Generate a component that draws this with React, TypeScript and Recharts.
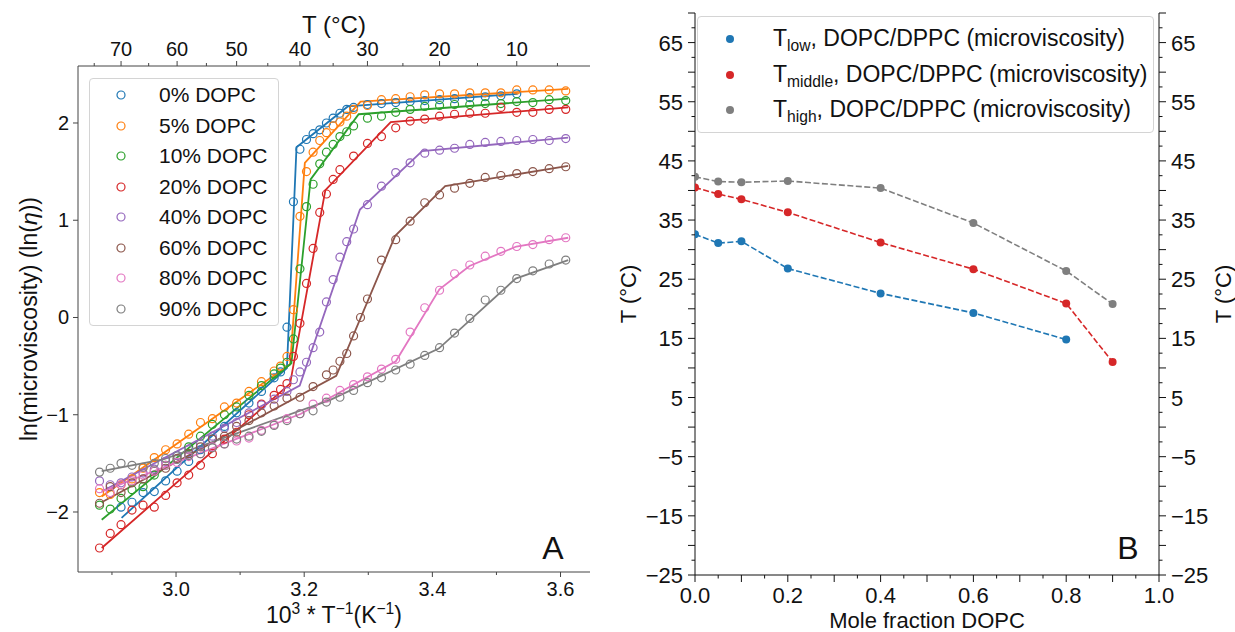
import React from "react";
import { ComposedChart, Line, Scatter, XAxis, YAxis } from "recharts";

const FONT = '"Liberation Sans", Arial, Helvetica, sans-serif';
const INK = "#111111";
const SPINE = "#444444";

// ---------- panel A : ln(microviscosity) against 1000/T ----------
const invTicksMajor = [3.0, 3.2, 3.4, 3.6];
const invTicksMinor = [2.9, 3.1, 3.3, 3.5];
const tempTicksMajor = [70, 60, 50, 40, 30, 20, 10];
const tempTicksMinor = [75, 65, 55, 45, 35, 25, 15, 5];
const lnTicks = [-2, -1, 0, 1, 2];
const X_DOMAIN_A = [2.847, 3.646];
const Y_DOMAIN_A = [-2.617, 2.586];

// measurement temperatures, °C
const tempsEvery2 = [74, 72, 70, 68, 66, 64, 62, 60, 58, 56, 54, 52, 50, 48, 46, 44, 42, 40, 38, 36, 34, 32, 30, 28, 26, 24, 22, 20, 18, 16, 14, 12, 10, 8, 6, 4];
const temps0 = [70, 68, 66, 64, 62, 60, 58, 56, 54, 52, 50, 48, 46, 44, 43, 42, 41, 40, 39, 38, 37, 36, 35, 34, 33, 32, 30, 28, 26, 24, 22, 20, 18, 16, 14, 12, 10];
const temps5 = [74, 72, 70, 68, 66, 64, 62, 60, 58, 56, 54, 52, 50, 48, 46, 44, 43, 42, 41, 40, 39, 38, 37, 36, 35, 34, 33, 32, 30, 28, 26, 24, 22, 20, 18, 16, 14, 12, 10, 8, 6, 4];
const temps20 = [74, 72, 70, 68, 66, 64, 62, 60, 58, 56, 54, 52, 50, 48, 46, 44, 43, 42, 41, 40, 39, 38, 37, 36, 35, 34, 32, 30, 28, 26, 24, 22, 20, 18, 16, 14, 12, 10, 8, 6, 4];
const temps40 = [74, 72, 70, 68, 66, 64, 62, 60, 58, 56, 54, 52, 50, 48, 46, 44, 42, 41, 40, 39, 38, 37, 36, 35, 34, 33, 32, 30, 28, 26, 24, 22, 20, 18, 16, 14, 12, 10, 8, 6, 4];
const temps60 = [74, 72, 70, 68, 66, 64, 62, 60, 58, 56, 54, 52, 50, 48, 46, 44, 42, 40, 38, 36, 35, 34, 33, 32, 31, 30, 28, 26, 24, 22, 20, 18, 16, 14, 12, 10, 8, 6, 4];

// ln(eta) readings
const ln0 = [-1.95, -1.9, -1.8, -1.79, -1.68, -1.58, -1.48, -1.36, -1.25, -1.12, -0.98, -0.88, -0.76, -0.62, -0.56, -0.1, 1.19, 1.73, 1.83, 1.89, 1.93, 2.0, 2.05, 2.1, 2.14, 2.16, 2.19, 2.2, 2.21, 2.22, 2.23, 2.24, 2.25, 2.26, 2.27, 2.28, 2.3];
const ln5 = [-1.8, -1.82, -1.72, -1.66, -1.55, -1.44, -1.36, -1.3, -1.2, -1.08, -1.04, -0.92, -0.88, -0.76, -0.66, -0.55, -0.5, -0.4, 0.08, 1.04, 1.5, 1.7, 1.82, 1.9, 1.97, 2.01, 2.07, 2.14, 2.18, 2.24, 2.25, 2.27, 2.29, 2.3, 2.3, 2.31, 2.31, 2.31, 2.34, 2.34, 2.34, 2.33];
const ln10 = [-1.93, -1.97, -1.86, -1.77, -1.74, -1.62, -1.52, -1.42, -1.33, -1.22, -1.1, -1.0, -0.92, -0.8, -0.7, -0.58, -0.52, -0.46, -0.22, 0.5, 1.14, 1.37, 1.58, 1.7, 1.78, 1.86, 1.91, 1.97, 2.05, 2.07, 2.11, 2.14, 2.17, 2.18, 2.19, 2.19, 2.2, 2.2, 2.22, 2.21, 2.24, 2.23];
const ln20 = [-2.37, -2.22, -2.13, -1.98, -1.93, -1.95, -1.83, -1.7, -1.62, -1.52, -1.4, -1.25, -1.18, -1.0, -0.89, -0.8, -0.74, -0.68, -0.4, -0.06, 0.35, 0.71, 1.08, 1.27, 1.42, 1.52, 1.66, 1.79, 1.86, 1.95, 2.02, 2.04, 2.07, 2.09, 2.1, 2.1, 2.16, 2.11, 2.11, 2.14, 2.14];
const ln40 = [-1.68, -1.72, -1.7, -1.64, -1.6, -1.56, -1.48, -1.42, -1.36, -1.3, -1.22, -1.14, -1.08, -0.98, -0.9, -0.84, -0.76, -0.64, -0.56, -0.46, -0.31, -0.15, 0.16, 0.39, 0.62, 0.78, 0.91, 1.16, 1.35, 1.49, 1.59, 1.69, 1.72, 1.74, 1.78, 1.8, 1.81, 1.82, 1.83, 1.82, 1.84];
const ln60 = [-1.91, -1.74, -1.8, -1.7, -1.66, -1.58, -1.55, -1.45, -1.4, -1.33, -1.25, -1.22, -1.12, -1.06, -0.98, -0.91, -0.83, -0.82, -0.71, -0.59, -0.54, -0.45, -0.37, -0.19, 0.0, 0.19, 0.59, 0.8, 0.99, 1.18, 1.26, 1.33, 1.38, 1.44, 1.46, 1.48, 1.5, 1.53, 1.55];
const ln80 = [-1.76, -1.8, -1.72, -1.68, -1.62, -1.58, -1.52, -1.49, -1.43, -1.4, -1.33, -1.3, -1.27, -1.24, -1.16, -1.1, -1.04, -0.99, -0.89, -0.83, -0.75, -0.69, -0.61, -0.53, -0.43, -0.15, 0.1, 0.28, 0.45, 0.54, 0.63, 0.68, 0.73, 0.75, 0.8, 0.82];
const ln90 = [-1.59, -1.55, -1.5, -1.52, -1.54, -1.5, -1.45, -1.46, -1.42, -1.4, -1.34, -1.3, -1.25, -1.22, -1.17, -1.11, -1.06, -0.99, -0.96, -0.87, -0.82, -0.75, -0.67, -0.62, -0.54, -0.48, -0.39, -0.31, -0.16, -0.01, 0.18, 0.28, 0.4, 0.48, 0.55, 0.59];

// piecewise-linear fits (1000/T, ln eta)
const fitX0 = [2.915, 3.173, 3.188, 3.268, 3.533];
const fitY0 = [-2.06, -0.52, 1.75, 2.17, 2.3];
const fitX5 = [2.884, 3.178, 3.201, 3.288, 3.612];
const fitY5 = [-1.84, -0.48, 1.59, 2.22, 2.35];
const fitX10 = [2.884, 3.18, 3.21, 3.285, 3.612];
const fitY10 = [-2.08, -0.47, 1.42, 2.09, 2.25];
const fitX20 = [2.884, 3.178, 3.233, 3.335, 3.612];
const fitY20 = [-2.37, -0.68, 1.31, 2.01, 2.16];
const fitX40 = [2.884, 3.193, 3.287, 3.384, 3.612];
const fitY40 = [-1.79, -0.7, 1.11, 1.71, 1.85];
const fitX60 = [2.884, 3.25, 3.342, 3.42, 3.612];
const fitY60 = [-1.9, -0.6, 0.84, 1.35, 1.56];
const fitX80 = [2.884, 3.195, 3.343, 3.411, 3.458, 3.531, 3.612];
const fitY80 = [-1.79, -0.99, -0.45, 0.29, 0.53, 0.73, 0.82];
const fitX90 = [2.884, 2.98, 3.24, 3.41, 3.53, 3.612];
const fitY90 = [-1.58, -1.46, -0.85, -0.32, 0.4, 0.59];

const toInv = (t: number) => 1000 / (t + 273.15);

const seriesA = [
  { name: "0% DOPC", color: "#1f77b4", temps: temps0, ln: ln0, fx: fitX0, fy: fitY0 },
  { name: "5% DOPC", color: "#ff7f0e", temps: temps5, ln: ln5, fx: fitX5, fy: fitY5 },
  { name: "10% DOPC", color: "#2ca02c", temps: temps5, ln: ln10, fx: fitX10, fy: fitY10 },
  { name: "20% DOPC", color: "#d62728", temps: temps20, ln: ln20, fx: fitX20, fy: fitY20 },
  { name: "40% DOPC", color: "#9467bd", temps: temps40, ln: ln40, fx: fitX40, fy: fitY40 },
  { name: "60% DOPC", color: "#8c564b", temps: temps60, ln: ln60, fx: fitX60, fy: fitY60 },
  { name: "80% DOPC", color: "#e377c2", temps: tempsEvery2, ln: ln80, fx: fitX80, fy: fitY80 },
  { name: "90% DOPC", color: "#7f7f7f", temps: tempsEvery2, ln: ln90, fx: fitX90, fy: fitY90 },
].map((s) => ({
  ...s,
  points: s.temps.map((t, i) => ({ x: toInv(t), y: s.ln[i] })),
  fit: s.fx.map((x, i) => ({ x, y: s.fy[i] })),
}));

// ---------- panel B : transition temperatures ----------
const fractionB = [0, 0.05, 0.1, 0.2, 0.4, 0.6, 0.8, 0.9];
const tLow = [32.6, 31.1, 31.4, 26.8, 22.6, 19.3, 14.8, null];
const tMiddle = [40.5, 39.4, 38.5, 36.3, 31.2, 26.7, 20.9, 11.0];
const tHigh = [42.3, 41.5, 41.4, 41.6, 40.4, 34.5, 26.4, 20.8];
const rowsB = fractionB.map((x, i) => ({ x, low: tLow[i], middle: tMiddle[i], high: tHigh[i] }));

const seriesB = [
  { key: "low", sub: "low", color: "#1f77b4" },
  { key: "middle", sub: "middle", color: "#d62728" },
  { key: "high", sub: "high", color: "#7f7f7f" },
];

const xTicksB = Array.from({ length: 21 }, (_, k) => k / 20);
const yTicksB = Array.from({ length: 39 }, (_, k) => -25 + k * 2.5);

const minus = (s: string) => s.replace("-", "\u2212");

// ---------- tick renderers ----------
const tickBottomA = (p: any) => {
  const v = p.payload.value;
  const major = invTicksMajor.includes(v);
  const len = major ? 5 : 3;
  return (
    <g>
      <line x1={p.x} x2={p.x} y1={p.y} y2={p.y + len} stroke={SPINE} strokeWidth={1} />
      {major && (
        <text x={p.x} y={p.y + len + 19} textAnchor="middle" fontSize={20} fontFamily={FONT} fill={INK}>
          {v.toFixed(1)}
        </text>
      )}
    </g>
  );
};

const tickTopA = (p: any) => {
  const t = Math.round(1000 / p.payload.value - 273.15);
  const major = tempTicksMajor.includes(t);
  const len = major ? 5 : 3;
  return (
    <g>
      <line x1={p.x} x2={p.x} y1={p.y} y2={p.y - len} stroke={SPINE} strokeWidth={1} />
      {major && (
        <text x={p.x} y={p.y - len - 5} textAnchor="middle" fontSize={20} fontFamily={FONT} fill={INK}>
          {t}
        </text>
      )}
    </g>
  );
};

const tickLeftA = (p: any) => {
  const v = p.payload.value;
  return (
    <g>
      <line x1={p.x} x2={p.x - 5} y1={p.y} y2={p.y} stroke={SPINE} strokeWidth={1} />
      <text x={p.x - 9} y={p.y + 7} textAnchor="end" fontSize={20} fontFamily={FONT} fill={INK}>
        {minus(String(v))}
      </text>
    </g>
  );
};

const tickBottomB = (p: any) => {
  const k = Math.round(p.payload.value * 20);
  const labelled = k % 4 === 0;
  const len = k % 2 === 0 ? 7 : 3.5;
  return (
    <g>
      <line x1={p.x} x2={p.x} y1={p.y} y2={p.y + len} stroke={INK} strokeWidth={1} />
      {labelled && (
        <text x={p.x} y={p.y + 28} textAnchor="middle" fontSize={22} fontFamily={FONT} fill={INK}>
          {(k / 20).toFixed(1)}
        </text>
      )}
    </g>
  );
};

const makeSideTickB = (side: "left" | "right") => (p: any) => {
  const v = p.payload.value;
  const labelled = (v + 25) % 10 === 0;
  const len = v % 5 === 0 ? 7 : 3.5;
  const dir = side === "left" ? -1 : 1;
  return (
    <g>
      <line x1={p.x} x2={p.x + dir * len} y1={p.y} y2={p.y} stroke={INK} strokeWidth={1} />
      {labelled && (
        <text
          x={p.x + dir * 12}
          y={p.y + 8}
          textAnchor={side === "left" ? "end" : "start"}
          fontSize={22}
          fontFamily={FONT}
          fill={INK}
        >
          {minus(String(v))}
        </text>
      )}
    </g>
  );
};

// ---------- overlays ----------
const abs = (left: number, top: number, extra: React.CSSProperties = {}): React.CSSProperties => ({
  position: "absolute",
  left,
  top,
  transform: "translate(-50%, -50%)",
  whiteSpace: "nowrap",
  fontFamily: FONT,
  color: INK,
  ...extra,
});

const supStyle: React.CSSProperties = { fontSize: "0.68em", verticalAlign: "0.55em", lineHeight: 0 };
const subStyle: React.CSSProperties = { fontSize: "0.68em", verticalAlign: "-0.3em", lineHeight: 0 };

function LegendA() {
  return (
    <div
      style={{
        position: "absolute",
        left: 89,
        top: 78,
        width: 190,
        height: 248,
        border: "1px solid #d4d4d4",
        borderRadius: 4,
        background: "rgba(255,255,255,0.85)",
        boxSizing: "border-box",
        fontFamily: FONT,
      }}
    >
      {seriesA.map((s, i) => (
        <div key={s.name} style={{ position: "absolute", left: 0, top: 16 + i * 30.5, height: 0 }}>
          <svg width={14} height={14} style={{ position: "absolute", left: 24, top: -7 }}>
            <circle cx={7} cy={7} r={4} fill="none" stroke={s.color} strokeWidth={1.2} />
          </svg>
          <span style={{ position: "absolute", left: 69, top: -12, fontSize: 21, lineHeight: "24px", color: INK, whiteSpace: "nowrap" }}>
            {s.name}
          </span>
        </div>
      ))}
    </div>
  );
}

function LegendB() {
  return (
    <div
      style={{
        position: "absolute",
        left: 697,
        top: 16,
        width: 457,
        height: 117,
        border: "1px solid #d4d4d4",
        borderRadius: 4,
        background: "rgba(255,255,255,0.85)",
        boxSizing: "border-box",
        fontFamily: FONT,
      }}
    >
      {seriesB.map((s, i) => (
        <div key={s.key} style={{ position: "absolute", left: 0, top: 22 + i * 35.5, height: 0 }}>
          <svg width={12} height={12} style={{ position: "absolute", left: 26, top: -6 }}>
            <circle cx={6} cy={6} r={4} fill={s.color} />
          </svg>
          <span style={{ position: "absolute", left: 75, top: -14, fontSize: 23, lineHeight: "26px", color: INK, whiteSpace: "nowrap" }}>
            T<span style={subStyle}>{s.sub}</span>, DOPC/DPPC (microviscosity)
          </span>
        </div>
      ))}
    </div>
  );
}

export default function App() {
  const topTicksA = [...tempTicksMinor, ...tempTicksMajor].map(toInv);
  return (
    <div style={{ position: "absolute", left: 0, top: 0, width: 1235, height: 632, background: "#fff", overflow: "hidden" }}>
      {/* panel A */}
      <div style={{ position: "absolute", left: 0, top: 0 }}>
        <ComposedChart width={600} height={632} margin={{ top: 26, right: 10, bottom: 20, left: 18 }}>
          <XAxis
            xAxisId="b"
            type="number"
            dataKey="x"
            domain={X_DOMAIN_A}
            allowDataOverflow
            ticks={[...invTicksMinor, ...invTicksMajor]}
            interval={0}
            tickSize={0}
            tickMargin={0}
            tickLine={false}
            tick={tickBottomA}
            axisLine={{ stroke: SPINE }}
            height={40}
          />
          <XAxis
            xAxisId="t"
            orientation="top"
            type="number"
            dataKey="x"
            domain={X_DOMAIN_A}
            allowDataOverflow
            ticks={topTicksA}
            interval={0}
            tickSize={0}
            tickMargin={0}
            tickLine={false}
            tick={tickTopA}
            axisLine={{ stroke: SPINE }}
            height={40}
          />
          <YAxis
            yAxisId="l"
            type="number"
            dataKey="y"
            domain={Y_DOMAIN_A}
            allowDataOverflow
            ticks={lnTicks}
            interval={0}
            tickSize={0}
            tickMargin={0}
            tickLine={false}
            tick={tickLeftA}
            axisLine={{ stroke: SPINE }}
            width={60}
          />
          <YAxis
            yAxisId="r"
            orientation="right"
            type="number"
            domain={Y_DOMAIN_A}
            allowDataOverflow
            tick={false}
            tickLine={false}
            axisLine={{ stroke: SPINE }}
            width={0}
          />
          {seriesA.map((s) => (
            <Scatter
              key={"pts" + s.name}
              data={s.points}
              xAxisId="b"
              yAxisId="l"
              isAnimationActive={false}
              shape={(p: any) => <circle cx={p.cx} cy={p.cy} r={4} fill="none" stroke={s.color} strokeWidth={1.2} />}
            />
          ))}
          {seriesA.map((s) => (
            <Line
              key={"fit" + s.name}
              data={s.fit}
              dataKey="y"
              xAxisId="b"
              yAxisId="l"
              type="linear"
              stroke={s.color}
              strokeWidth={1.8}
              dot={false}
              activeDot={false}
              isAnimationActive={false}
            />
          ))}
        </ComposedChart>
      </div>

      {/* panel B */}
      <div style={{ position: "absolute", left: 600, top: 0 }}>
        <ComposedChart width={635} height={632} data={rowsB} margin={{ top: 13, right: 6, bottom: 17, left: 25 }}>
          <XAxis
            xAxisId="b"
            type="number"
            dataKey="x"
            domain={[0, 1]}
            allowDataOverflow
            ticks={xTicksB}
            interval={0}
            tickSize={0}
            tickMargin={0}
            tickLine={false}
            tick={tickBottomB}
            axisLine={{ stroke: INK }}
            height={40}
          />
          <XAxis
            xAxisId="t"
            orientation="top"
            type="number"
            dataKey="x"
            domain={[0, 1]}
            allowDataOverflow
            tick={false}
            tickLine={false}
            axisLine={{ stroke: INK }}
            height={0}
          />
          <YAxis
            yAxisId="l"
            type="number"
            domain={[-25, 70]}
            allowDataOverflow
            ticks={yTicksB}
            interval={0}
            tickSize={0}
            tickMargin={0}
            tickLine={false}
            tick={makeSideTickB("left")}
            axisLine={{ stroke: INK }}
            width={70}
          />
          <YAxis
            yAxisId="r"
            orientation="right"
            type="number"
            domain={[-25, 70]}
            allowDataOverflow
            ticks={yTicksB}
            interval={0}
            tickSize={0}
            tickMargin={0}
            tickLine={false}
            tick={makeSideTickB("right")}
            axisLine={{ stroke: INK }}
            width={70}
          />
          {seriesB.map((s) => (
            <Line
              key={s.key}
              dataKey={s.key}
              xAxisId="b"
              yAxisId="l"
              type="linear"
              stroke={s.color}
              strokeWidth={1.6}
              strokeDasharray="6 2.5"
              dot={{ r: 4, fill: s.color, stroke: s.color, strokeWidth: 0 }}
              activeDot={false}
              isAnimationActive={false}
            />
          ))}
        </ComposedChart>
      </div>

      {/* texts, legends */}
      <div style={abs(334, 25, { fontSize: 24 })}>T (°C)</div>
      <div style={abs(29, 319, { fontSize: 23, transform: "translate(-50%, -50%) rotate(-90deg)" })}>
        ln(microviscosity) (ln(<i>η</i>))
      </div>
      <div style={abs(334, 615, { fontSize: 23 })}>
        10<span style={supStyle}>3</span> * T<span style={supStyle}>−1</span>(K<span style={supStyle}>−1</span>)
      </div>
      <div style={abs(553, 548, { fontSize: 32 })}>A</div>
      <LegendA />

      <div style={abs(629, 294, { fontSize: 22, transform: "translate(-50%, -50%) rotate(-90deg)" })}>T (°C)</div>
      <div style={abs(1224, 294, { fontSize: 22, transform: "translate(-50%, -50%) rotate(-90deg)" })}>T (°C)</div>
      <div style={abs(927, 621, { fontSize: 22 })}>Mole fraction DOPC</div>
      <div style={abs(1128, 548, { fontSize: 32 })}>B</div>
      <LegendB />
    </div>
  );
}
